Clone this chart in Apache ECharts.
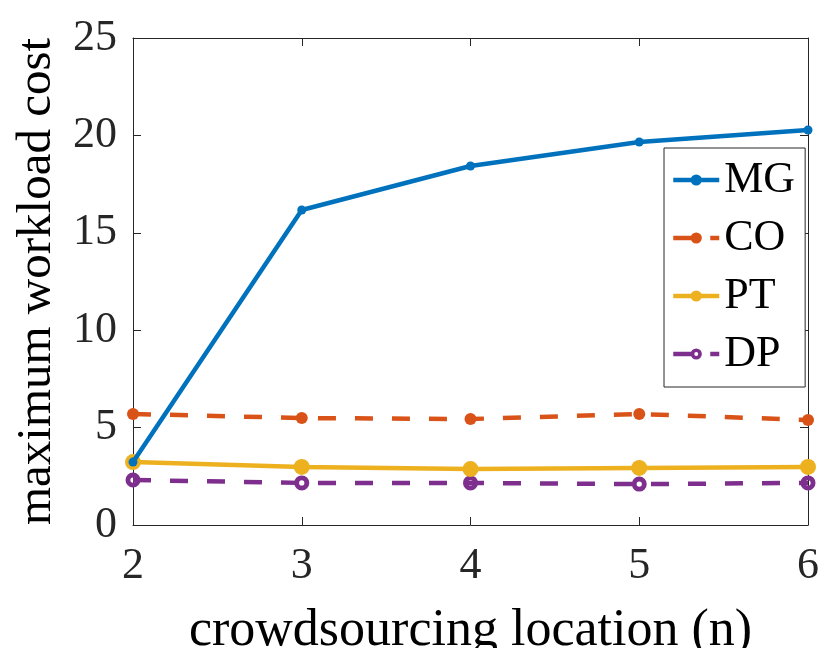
<!DOCTYPE html>
<html>
<head>
<meta charset="utf-8">
<script src="https://cdn.jsdelivr.net/npm/echarts@6/dist/echarts.min.js"></script>
<style>
html,body{margin:0;padding:0;background:#fff;}
#chart{width:821px;height:648px;}
</style>
</head>
<body>
<div id="chart"></div>
<script>
var locations = [2, 3, 4, 5, 6];
var mgValues = [3.23, 16.17, 18.43, 19.66, 20.28];
var coValues = [5.70, 5.49, 5.44, 5.70, 5.39];
var ptValues = [3.23, 2.98, 2.87, 2.93, 2.98];
var dpValues = [2.31, 2.16, 2.16, 2.10, 2.16];
var seriesNames = ['MG', 'CO', 'PT', 'DP'];
var xTicks = [2, 3, 4, 5, 6];
var yTicks = [0, 5, 10, 15, 20, 25];

function pairs(vals) { return locations.map(function (x, i) { return [x, vals[i]]; }); }

var FONT = 'Liberation Serif';
var AX = '#262626';
var chart = echarts.init(document.getElementById('chart'), null, {renderer: 'canvas'});

function xAx(pos, show) {
  return {
    type: 'value', position: pos, min: xTicks[0], max: xTicks[xTicks.length - 1], interval: 1,
    axisLine: {show: true, onZero: false, lineStyle: {color: AX, width: 1}},
    axisTick: {show: true, inside: true, length: 8, lineStyle: {color: AX}},
    axisLabel: {show: show, margin: 19, fontFamily: FONT, fontSize: 44, color: AX},
    splitLine: {show: false},
    name: show ? 'crowdsourcing location (n)' : '', nameLocation: 'middle', nameGap: 80,
    nameTextStyle: {fontFamily: FONT, fontSize: 52, color: '#000'}
  };
}
function yAx(pos, show) {
  return {
    type: 'value', position: pos, min: yTicks[0], max: yTicks[yTicks.length - 1], interval: 5,
    axisLine: {show: true, onZero: false, lineStyle: {color: AX, width: 1}},
    axisTick: {show: true, inside: true, length: 8, lineStyle: {color: AX}},
    axisLabel: {show: show, margin: 16, fontFamily: FONT, fontSize: 44, color: AX},
    splitLine: {show: false},
    name: show ? 'maximum workload cost' : '', nameLocation: 'middle', nameGap: 62,
    nameTextStyle: {fontFamily: FONT, fontSize: 49, color: '#000'}
  };
}

var RING = 'path://M0,-10 A10,10 0 1,1 0,10 A10,10 0 1,1 0,-10 Z M0,-3.5 A3.5,3.5 0 1,0 0,3.5 A3.5,3.5 0 1,0 0,-3.5 Z';
var colors = ['#0072BD', '#D95319', '#EDB120', '#7E2F8E'];
var allVals = [mgValues, coValues, ptValues, dpValues];
var styles = [
  {type: 'solid', symbol: 'circle', size: 9},
  {type: [18, 19], symbol: 'circle', size: 12},
  {type: 'solid', symbol: 'circle', size: 16},
  {type: [18, 19], symbol: RING, size: 15}
];

var series = seriesNames.map(function (n, i) {
  return {
    name: n, type: 'line', xAxisIndex: 0, yAxisIndex: 0,
    data: pairs(allVals[i]),
    symbol: styles[i].symbol, symbolSize: styles[i].size, showAllSymbol: true,
    symbolKeepAspect: true,
    lineStyle: {color: colors[i], width: 4.5, type: styles[i].type},
    itemStyle: {color: colors[i], borderWidth: 0},
    emphasis: {disabled: true},
    animation: false, z: 10 - i
  };
});

chart.setOption({
  backgroundColor: '#fff',
  animation: false,
  grid: {left: 133, right: 13, top: 38, bottom: 123, containLabel: false, outerBoundsMode: 'none'},
  xAxis: [xAx('bottom', true), xAx('top', false)],
  yAxis: [yAx('left', true), yAx('right', false)],
  legend: {
    orient: 'vertical', left: 664, top: 148,
    data: seriesNames,
    itemWidth: 46, itemHeight: 14, itemGap: 14,
    padding: [10, 10, 11, 7],
    borderColor: AX, borderWidth: 1, backgroundColor: '#fff',
    lineStyle: {width: 4.5},
    textStyle: {fontFamily: FONT, fontSize: 44, color: '#000', lineHeight: 44},
    selectedMode: false
  },
  series: series
});
</script>
</body>
</html>
